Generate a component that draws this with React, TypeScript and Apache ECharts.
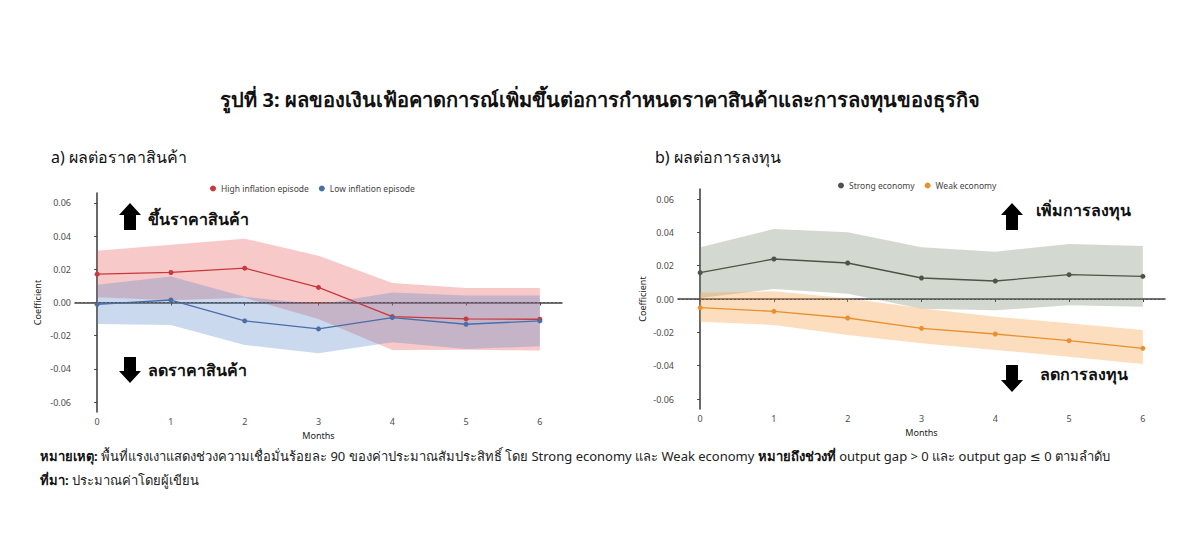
import React, { useEffect, useRef } from "react";
import * as echarts from "echarts";

const months = [0, 1, 2, 3, 4, 5, 6];
const yTicks = [-0.06, -0.04, -0.02, 0, 0.02, 0.04, 0.06];

const highMean = [0.0171, 0.0181, 0.0207, 0.0091, -0.0085, -0.0099, -0.0101];
const highUpper = [0.0312, 0.0348, 0.0385, 0.0282, 0.0117, 0.0087, 0.0087];
const highLower = [0.0032, 0.0014, 0.0029, -0.01, -0.0287, -0.0285, -0.0289];

const lowMean = [-0.0011, 0.0015, -0.0111, -0.0159, -0.0091, -0.0131, -0.0111];
const lowUpper = [0.0107, 0.0157, 0.0034, -0.0012, 0.006, 0.0042, 0.0042];
const lowLower = [-0.0129, -0.0135, -0.0256, -0.0306, -0.024, -0.028, -0.0264];

const strongMean = [0.0158, 0.024, 0.0216, 0.0126, 0.0108, 0.0146, 0.0136];
const strongUpper = [0.031, 0.042, 0.04, 0.031, 0.0284, 0.033, 0.0318];
const strongLower = [0.0006, 0.006, 0.0032, -0.0058, -0.0068, -0.0038, -0.0046];

const weakMean = [-0.0052, -0.0074, -0.0114, -0.0176, -0.021, -0.025, -0.0296];
const weakUpper = [0.0038, 0.0046, 0.0004, -0.0056, -0.0106, -0.0146, -0.0186];
const weakLower = [-0.0136, -0.0156, -0.0216, -0.0266, -0.0306, -0.0346, -0.039];

const FONT = "'Noto Sans', 'DejaVu Sans', sans-serif";

function band(id: string, lower: number[], upper: number[], color: string, opacity: number, axis: number) {
  return {
    type: "custom",
    name: id + "_band",
    xAxisIndex: axis,
    yAxisIndex: axis,
    data: [[0, 0]],
    silent: true,
    z: 1,
    renderItem: (params: any, api: any) => {
      const top = months.map((m, i) => api.coord([m, upper[i]]));
      const bottom = months.map((m, i) => api.coord([m, lower[i]])).reverse();
      return {
        type: "polygon",
        shape: { points: [...top, ...bottom] },
        style: { fill: color, opacity, stroke: "none" },
      };
    },
  };
}

function meanLine(name: string, values: number[], color: string, axis: number, zero: boolean) {
  const s: any = {
    type: "line",
    name,
    xAxisIndex: axis,
    yAxisIndex: axis,
    data: months.map((m, i) => [m, values[i]]),
    symbol: "circle",
    symbolSize: 5,
    itemStyle: { color },
    lineStyle: { color, width: 1.3 },
    z: 3,
  };
  if (zero) {
    s.markLine = {
      silent: true,
      symbol: "none",
      label: { show: false },
      lineStyle: { color: "#555", type: [2, 2], width: 1 },
      data: [{ yAxis: 0 }],
    };
  }
  return s;
}

function xAxisCfg(grid: number) {
  return {
    type: "value",
    gridIndex: grid,
    min: -0.3,
    max: 6.3,
    name: "Months",
    nameLocation: "middle",
    nameGap: 19,
    nameTextStyle: { fontSize: 9, color: "#222", fontFamily: FONT },
    splitLine: { show: false },
    axisLine: { show: true, lineStyle: { color: "#444", width: 1.6 } },
    axisTick: { show: true, customValues: months, length: 3, lineStyle: { color: "#444" } },
    axisLabel: { customValues: months, fontSize: 9, color: "#4d4d4d", margin: 5, fontFamily: FONT },
  };
}

function yAxisCfg(grid: number, gap: number) {
  return {
    type: "value",
    gridIndex: grid,
    min: -0.066,
    max: 0.066,
    name: "Coefficient",
    nameLocation: "middle",
    nameRotate: 90,
    nameGap: gap,
    nameTextStyle: { fontSize: 9, color: "#222", fontFamily: FONT },
    splitLine: { show: false },
    axisLine: { show: true, lineStyle: { color: "#444", width: 1.6 } },
    axisTick: { show: true, customValues: yTicks, length: 3, lineStyle: { color: "#444" } },
    axisLabel: {
      customValues: yTicks,
      fontSize: 9,
      color: "#4d4d4d",
      margin: 4,
      fontFamily: FONT,
      formatter: (v: number) => v.toFixed(2),
    },
  };
}

function arrow(cx: number, top: number, bottom: number, up: boolean) {
  const hw = 11;
  const sw = 6;
  const hh = 12;
  let pts: number[][];
  if (up) {
    pts = [
      [cx, top],
      [cx + hw, top + hh],
      [cx + sw, top + hh],
      [cx + sw, bottom],
      [cx - sw, bottom],
      [cx - sw, top + hh],
      [cx - hw, top + hh],
    ];
  } else {
    pts = [
      [cx, bottom],
      [cx + hw, bottom - hh],
      [cx + sw, bottom - hh],
      [cx + sw, top],
      [cx - sw, top],
      [cx - sw, bottom - hh],
      [cx - hw, bottom - hh],
    ];
  }
  return { type: "polygon", shape: { points: pts }, style: { fill: "#000" }, z: 10 };
}

function label(text: string, x: number, y: number) {
  return {
    type: "text",
    x,
    y,
    style: { text, fontSize: 16, fontWeight: "bold", fill: "#111", font: "bold 16px " + FONT, verticalAlign: "middle" },
    z: 10,
  };
}

export default function App() {
  const ref = useRef<HTMLDivElement>(null);
  useEffect(() => {
    if (!ref.current) return;
    const chart = echarts.init(ref.current, undefined, { renderer: "svg" });
    const option: any = {
      animation: false,
      backgroundColor: "#fff",
      textStyle: { fontFamily: FONT },
      title: [
        {
          text: "รูปที่ 3: ผลของเงินเฟ้อคาดการณ์เพิ่มขึ้นต่อการกำหนดราคาสินค้าและการลงทุนของธุรกิจ",
          left: "center",
          top: 84,
          textStyle: { fontSize: 20, fontWeight: "bold", color: "#111", fontFamily: FONT },
        },
        {
          text: "a) ผลต่อราคาสินค้า",
          left: 46,
          top: 144,
          textStyle: { fontSize: 16, fontWeight: "normal", color: "#111", fontFamily: FONT },
        },
        {
          text: "b) ผลต่อการลงทุน",
          left: 650,
          top: 144,
          textStyle: { fontSize: 16, fontWeight: "normal", color: "#111", fontFamily: FONT },
        },
      ],
      legend: [
        {
          data: ["High inflation episode", "Low inflation episode"],
          left: 205,
          top: 179,
          icon: "circle",
          itemWidth: 6,
          itemHeight: 6,
          itemGap: 10,
          textStyle: { fontSize: 8.5, color: "#444", fontFamily: FONT },
        },
        {
          data: ["Strong economy", "Weak economy"],
          left: 833,
          top: 176,
          icon: "circle",
          itemWidth: 6,
          itemHeight: 6,
          itemGap: 10,
          textStyle: { fontSize: 8.5, color: "#444", fontFamily: FONT },
        },
      ],
      grid: [
        { left: 75, top: 193, width: 487, height: 219 },
        { left: 678, top: 189, width: 487, height: 220 },
      ],
      xAxis: [xAxisCfg(0), xAxisCfg(1)],
      yAxis: [yAxisCfg(0, 33), yAxisCfg(1, 31)],
      series: [
        band("high", highLower, highUpper, "#e74c4c", 0.3, 0),
        band("low", lowLower, lowUpper, "#5082c8", 0.3, 0),
        meanLine("High inflation episode", highMean, "#c8383c", 0, true),
        meanLine("Low inflation episode", lowMean, "#4a6ea8", 0, false),
        band("strong", strongLower, strongUpper, "#6e8264", 0.3, 1),
        band("weak", weakLower, weakUpper, "#f5a046", 0.35, 1),
        meanLine("Strong economy", strongMean, "#4b5446", 1, true),
        meanLine("Weak economy", weakMean, "#e8902f", 1, false),
      ],
      graphic: [
        arrow(130, 203, 230, true),
        arrow(130, 357, 383, false),
        arrow(1012, 203, 230, true),
        arrow(1012, 365, 392, false),
        label("ขึ้นราคาสินค้า", 148, 219),
        label("ลดราคาสินค้า", 148, 370),
        label("เพิ่มการลงทุน", 1036, 210),
        label("ลดการลงทุน", 1040, 374),
        {
          type: "text",
          x: 40,
          y: 456,
          style: {
            text:
              "{b|หมายเหตุ:} พื้นที่แรงเงาแสดงช่วงความเชื่อมั่นร้อยละ 90 ของค่าประมาณสัมประสิทธิ์ โดย Strong economy และ Weak economy {b|หมายถึงช่วงที่} output gap > 0 และ output gap ≤ 0 ตามลำดับ",
            fontSize: 13,
            fill: "#222",
            fontFamily: FONT,
            verticalAlign: "middle",
            rich: { b: { fontWeight: "bold", fontSize: 13, fill: "#111", fontFamily: FONT } },
          },
        },
        {
          type: "text",
          x: 40,
          y: 480,
          style: {
            text: "{b|ที่มา:} ประมาณค่าโดยผู้เขียน",
            fontSize: 13,
            fill: "#222",
            fontFamily: FONT,
            verticalAlign: "middle",
            rich: { b: { fontWeight: "bold", fontSize: 13, fill: "#111", fontFamily: FONT } },
          },
        },
      ],
    };
    chart.setOption(option);
    return () => chart.dispose();
  }, []);
  return (
    <div
      ref={ref}
      style={{ position: "absolute", left: 0, top: 0, width: 1200, height: 543 }}
    />
  );
}
